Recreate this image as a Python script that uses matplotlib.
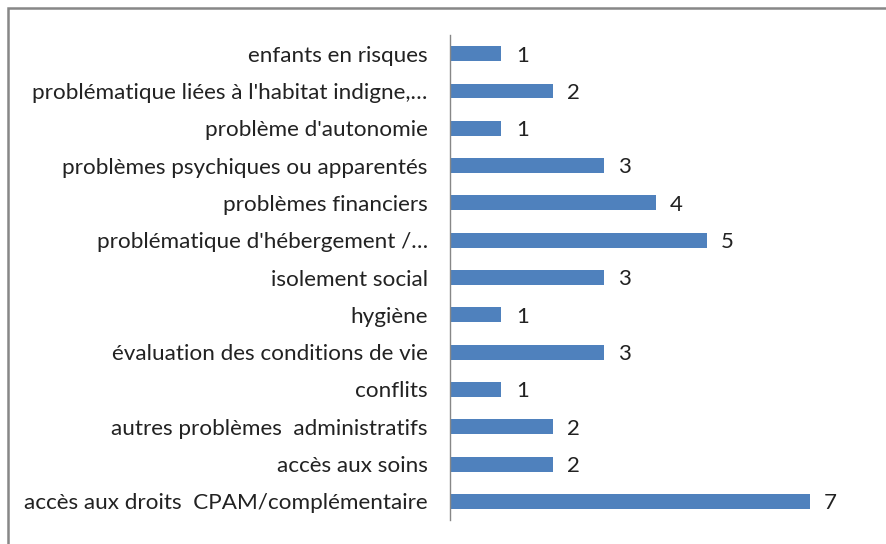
import matplotlib.pyplot as plt
from matplotlib.patches import Rectangle

BAR_BLUE = "#4F81BD"
GREY = "#878787"

categories = [
    "enfants en risques",
    "problématique liées à l'habitat indigne,…",
    "problème d'autonomie",
    "problèmes psychiques ou apparentés",
    "problèmes financiers",
    "problématique d'hébergement /…",
    "isolement social",
    "hygiène",
    "évaluation des conditions de vie",
    "conflits",
    "autres problèmes  administratifs",
    "accès aux soins",
    "accès aux droits  CPAM/complémentaire",
]
values = [1, 2, 1, 3, 4, 5, 3, 1, 3, 1, 2, 2, 7]

plt.rcParams['font.family'] = ['Lato', 'DejaVu Sans']

fig = plt.figure(figsize=(8.86, 5.44), dpi=100)
ax = fig.add_axes([450 / 886, 1 - 520 / 544, 411 / 886, 485 / 544])

# outer chart frame (its right/bottom edges fall outside the picture)
fig.patches.append(Rectangle((8 / 886, -0.1), 1.2, 1 - 8 / 544 + 0.1,
                             transform=fig.transFigure, fill=False,
                             edgecolor=GREY, linewidth=1.8))

pos = list(range(len(categories)))
ax.barh(pos, values, height=0.4, color=BAR_BLUE)
for p, v in zip(pos, values):
    ax.text(v + 0.28, p + 0.05, str(v), va='center', ha='left', fontsize=16, color='#222222')

ax.set_ylim(len(categories) - 0.5, -0.5)
ax.set_xlim(0, 8)
ax.set_yticks(pos)
ax.set_yticklabels(categories, fontsize=16.2, color='#222222')
ax.tick_params(axis='y', length=0, pad=16)
ax.set_xticks([])
for s in ['top', 'right', 'bottom']:
    ax.spines[s].set_visible(False)
ax.spines['left'].set_color(GREY)
ax.spines['left'].set_linewidth(1.0)

fig.savefig("out.png", dpi=100)
